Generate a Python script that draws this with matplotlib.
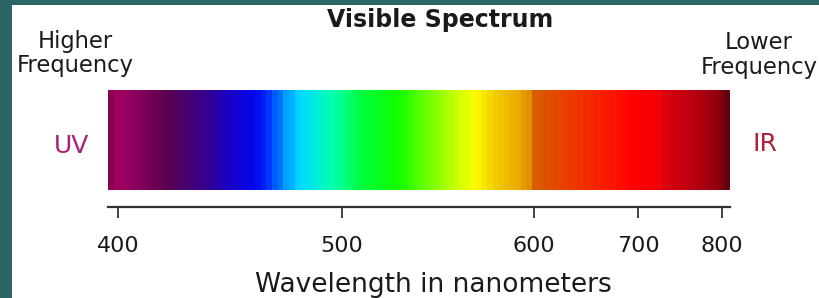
import matplotlib
matplotlib.use("Agg")
import matplotlib.pyplot as plt
import numpy as np
from matplotlib.colors import LinearSegmentedColormap, Normalize
from matplotlib.patches import Rectangle

# ticks along the wavelength axis
tick_nm = [400, 500, 600, 700, 800]
tick_labels = ["400", "500", "600", "700", "800"]

# colour of the spectrum at a given wavelength
spec_nm = [395.5, 398.7, 403, 410, 421, 437, 450, 461, 468, 475, 481, 495,
           509, 529, 550, 560, 569, 575, 581, 593, 597, 599, 610, 625, 645,
           664, 680, 695, 725, 735, 760, 780, 795, 803, 809.5]
spec_colors = ["#880050", "#a00060", "#980060", "#800058", "#580050",
               "#3a0088", "#1800c8", "#0008ee", "#0040ff", "#00a0ff",
               "#00dcff", "#00ffb0", "#00ff40", "#10ff00", "#90ff00",
               "#c8ff00", "#ffff00", "#f8e000", "#f0c800", "#e8a800",
               "#e09000", "#d86000", "#dc5400", "#e84400", "#f03000",
               "#f82000", "#ff1000", "#ff0000", "#f00008", "#d80010",
               "#c00010", "#a80010", "#900010", "#700010", "#580008"]

# the axis in the original is not linear: where each wavelength falls (0..1)
knot_nm = [395.5, 400, 500, 600, 700, 800, 809.5]
knot_pos = [0.0, 0.0161, 0.3762, 0.6849, 0.8521, 0.9871, 1.0]

W, H = 820, 298
fig = plt.figure(figsize=(W / 100, H / 100), dpi=100)
fig.patch.set_facecolor("#2b6566")
fig.patches.append(Rectangle((12 / W, 0), 1, 1 - 5 / H, transform=fig.transFigure,
                             facecolor="white", edgecolor="none", zorder=-10))


def fx(px):
    return px / W


def fy(py):
    return 1 - py / H


ax = fig.add_axes([fx(108), fy(190), 622 / W, 100 / H])
ax.set_zorder(2)
ax.set_xscale("function", functions=(lambda x: np.interp(x, knot_nm, knot_pos),
                                     lambda p: np.interp(p, knot_pos, knot_nm)))

norm = Normalize(spec_nm[0], spec_nm[-1])
cmap = LinearSegmentedColormap.from_list(
    "spec", list(zip([norm(v) for v in spec_nm], spec_colors)))

# banded look like the original gif
edges_pos = np.linspace(0, 1, 111)
edges_nm = np.interp(edges_pos, knot_pos, knot_nm)
centres = (edges_nm[:-1] + edges_nm[1:]) / 2
ax.pcolormesh(edges_nm, [0, 1], centres[None, :], cmap=cmap, norm=norm,
              shading="flat", antialiased=False)

ax.set_xlim(spec_nm[0], spec_nm[-1])
ax.set_ylim(0, 1)
ax.set_yticks([])
for s in ["top", "left", "right"]:
    ax.spines[s].set_visible(False)
ax.spines["bottom"].set_position(("outward", 12))
ax.spines["bottom"].set_linewidth(1.6)
ax.spines["bottom"].set_color("#333333")
ax.set_xticks(tick_nm)
ax.set_xticklabels(tick_labels)
ax.tick_params(axis="x", direction="out", length=8, width=1.2, color="#222222",
               pad=13, labelsize=16, labelcolor="#1a1a1a")

txt = dict(color="#1a1a1a", ha="center", va="baseline")
fig.text(fx(440), fy(27), "Visible Spectrum", fontsize=17, fontweight="bold", **txt)
fig.text(fx(75), fy(48), "Higher", fontsize=16.3, **txt)
fig.text(fx(75), fy(72), "Frequency", fontsize=16.3, **txt)
fig.text(fx(759), fy(49), "Lower", fontsize=16.3, **txt)
fig.text(fx(759), fy(74), "Frequency", fontsize=16.3, **txt)
fig.text(fx(433), fy(292), "Wavelength in nanometers", fontsize=19, **txt)
fig.text(fx(72), fy(153), "UV", fontsize=18, color="#a8207a", ha="center", va="baseline")
fig.text(fx(765), fy(151), "IR", fontsize=18, color="#b02038", ha="center", va="baseline")

fig.savefig("out.png", dpi=100, facecolor=fig.get_facecolor())
